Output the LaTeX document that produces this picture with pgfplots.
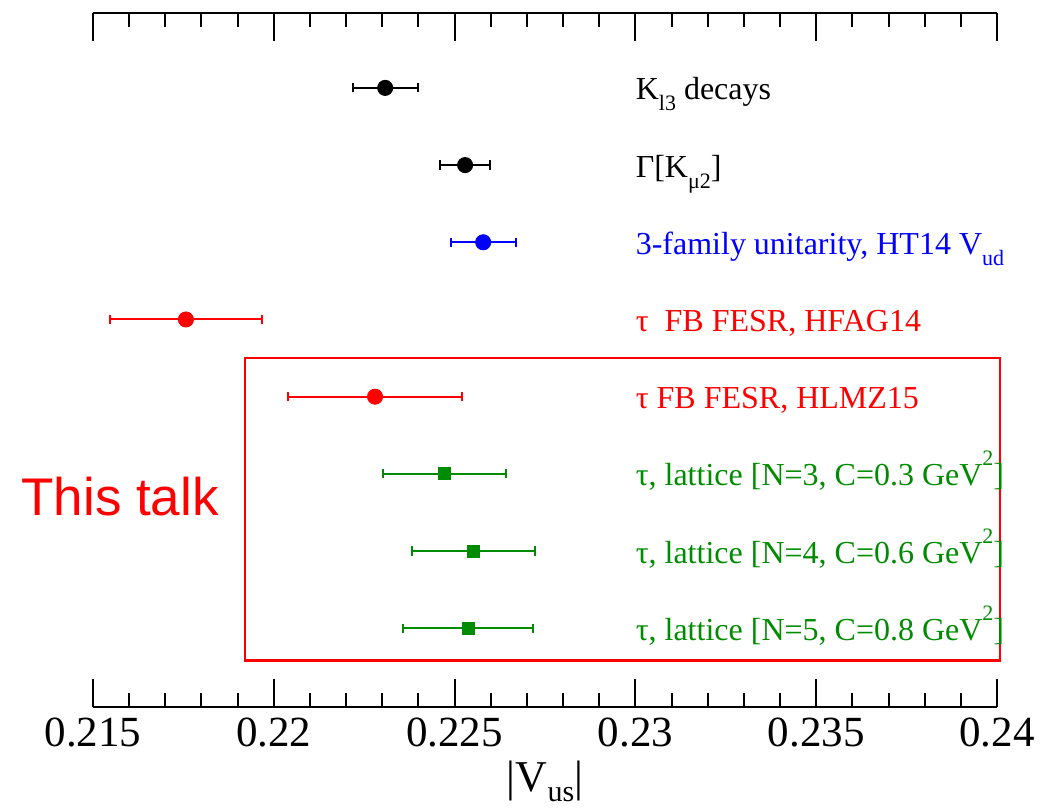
\documentclass[border=0pt]{standalone}
\usepackage{pgfplots}
\pgfplotsset{compat=1.18}
\usepackage{fontspec}
\setmainfont{Liberation Serif}
\setsansfont{Liberation Sans}
\definecolor{dgreen}{RGB}{0,140,0}
\newcommand{\sub}[1]{\raisebox{-5.5pt}{\fontsize{11}{11}\selectfont #1}}
\newcommand{\sups}[1]{\raisebox{10pt}{\fontsize{11}{11}\selectfont #1}}

\begin{document}
\begin{tikzpicture}
\begin{axis}[
  scale only axis, width=452pt, height=347pt,
  xmin=0.215, xmax=0.24, ymin=-0.02, ymax=8.97,
  axis x line=box, axis y line=none, ytick=\empty,
  axis line style={line width=1.2pt},
  xtick={0.215,0.22,0.225,0.23,0.235,0.24},
  xticklabels={0.215,0.22,0.225,0.23,0.235,0.24},
  minor x tick num=4, tick align=inside,
  major tick length=14pt, minor tick length=7pt,
  every tick/.style={black, line width=1pt},
  tick label style={font=\fontsize{21.5}{24}\selectfont, yshift=-2pt},
  xlabel={|V\raisebox{-5pt}{\fontsize{15}{15}\selectfont us}|},
  xlabel style={font=\fontsize{22}{24}\selectfont},
  clip=false,
  error bars/error bar style={line width=1pt},
  error bars/error mark options={line width=1pt, mark size=2.3pt, rotate=90},
]
\addplot[black, only marks, mark=*, mark size=3.8pt, error bars/.cd, x dir=both, x explicit]
  coordinates {(0.22308,8) +- (0.0009,0) (0.22529,7) +- (0.0007,0)};
\addplot[blue, only marks, mark=*, mark size=3.8pt, error bars/.cd, x dir=both, x explicit]
  coordinates {(0.22579,6) +- (0.0009,0)};
\addplot[red, only marks, mark=*, mark size=3.8pt, error bars/.cd, x dir=both, x explicit]
  coordinates {(0.21757,5) +- (0.0021,0) (0.2228,4) +- (0.0024,0)};
\addplot[dgreen, only marks, mark=square*, mark size=3pt, error bars/.cd, x dir=both, x explicit]
  coordinates {(0.22471,3) +- (0.0017,0) (0.22551,2) +- (0.0017,0) (0.22537,1) +- (0.0018,0)};

\draw[red, line width=1.2pt] (axis cs:0.2192,0.585) rectangle (axis cs:0.24008,4.5);

\begin{scope}[every node/.style={anchor=base west, yshift=-6pt, font=\fontsize{16}{18}\selectfont, inner sep=0pt}]
\node at (axis cs:0.2300,8) {K\sub{l3} decays};
\node at (axis cs:0.2300,7) {Γ[K\sub{μ2}]};
\node[blue] at (axis cs:0.2300,6) {3-family unitarity, HT14 V\sub{ud}};
\node[red] at (axis cs:0.2300,5) {τ\ \ FB FESR, HFAG14};
\node[red] at (axis cs:0.2300,4) {τ FB FESR, HLMZ15};
\node[dgreen] at (axis cs:0.2300,3) {τ, lattice [N=3, C=0.3 GeV\sups{2}]};
\node[dgreen] at (axis cs:0.2300,2) {τ, lattice [N=4, C=0.6 GeV\sups{2}]};
\node[dgreen] at (axis cs:0.2300,1) {τ, lattice [N=5, C=0.8 GeV\sups{2}]};
\end{scope}
\node[red, font=\sffamily\fontsize{26.5}{28}\selectfont] at (axis cs:0.21575,2.7) {This talk};
\end{axis}
\path ([yshift=6.5pt]current axis.north);
\path ([xshift=-46.5pt]current axis.west);
\path ([xshift=22.5pt]current axis.east);
\path ([yshift=-52pt]current axis.south);
\end{tikzpicture}
\end{document}
